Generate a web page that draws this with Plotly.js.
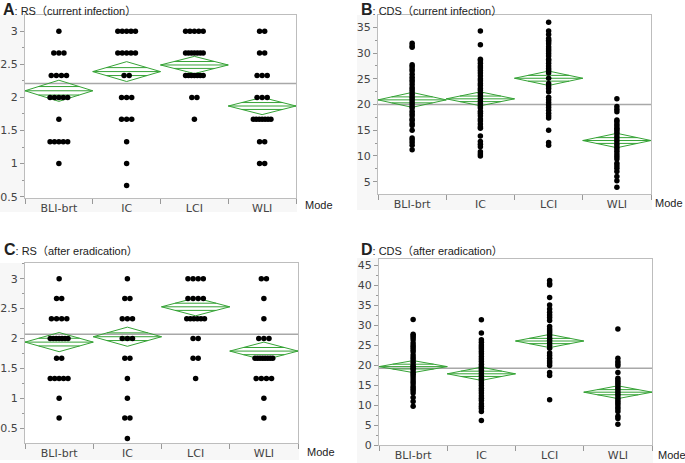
<!DOCTYPE html>
<html>
<head>
<meta charset="utf-8">
<script src="https://cdn.plot.ly/plotly-3.0.1.min.js"></script>
<style>body{margin:0;background:#fff}#chart{width:685px;height:463px}</style>
</head>
<body>
<div id="chart"></div>
<script>
// Categories
const modes = ['BLI-brt', 'IC', 'LCI', 'WLI'];

// A: RS (current infection)
const rsCurBLI = [3, 2.67, 2.67, 2.67, 2.33, 2.33, 2.33, 2.33, 2, 2, 2, 2, 2, 1.67, 1.33, 1.33, 1.33, 1.33, 1.33, 1];
const rsCurIC = [3, 3, 3, 3, 3, 2.67, 2.67, 2.67, 2.67, 2.67, 2.33, 2.33, 2, 2, 2, 1.67, 1.67, 1.67, 1.33, 1, 0.67];
const rsCurLCI = [3, 3, 3, 3, 3, 2.67, 2.67, 2.67, 2.67, 2.67, 2.67, 2.67, 2.33, 2.33, 2.33, 2.33, 2.33, 2.33, 2.33, 2, 2, 1.67];
const rsCurWLI = [3, 3, 2.67, 2.67, 2.33, 2.33, 2.33, 2, 2, 2, 1.67, 1.67, 1.67, 1.67, 1.67, 1.67, 1.67, 1.33, 1.33, 1, 1];
const rsCurMean = [2.10, 2.39, 2.49, 1.87];
const rsCurCI = [0.16, 0.15, 0.13, 0.13];
const rsCurGrand = 2.21;

// B: CDS (current infection)
const cdsCurBLI = [31.9, 31.4, 31.1, 27.7, 27.4, 26.9, 26.5, 25.9, 25.3, 24.8, 24.4, 23.9, 23.3, 22.9, 22.5, 22.0, 21.5, 21.1, 20.7, 20.2, 19.7, 19.3, 18.7, 18.2, 17.8, 17.2, 16.9, 16.3, 15.9, 15.0, 13.5, 13.1, 12.6, 12.1, 11.2];
const cdsCurIC = [34.3, 31.6, 28.8, 28.5, 28.0, 27.5, 27.1, 26.6, 26.1, 25.6, 25.0, 24.6, 24.1, 23.7, 23.1, 22.7, 22.2, 21.7, 21.2, 20.7, 20.2, 19.7, 19.3, 18.7, 18.3, 17.8, 17.2, 16.8, 16.2, 15.7, 15.4, 13.9, 12.8, 12.3, 11.8, 10.8, 10.4, 10.0];
const cdsCurLCI = [36.0, 34.3, 33.6, 32.8, 32.5, 32.2, 31.8, 31.2, 30.8, 30.4, 29.9, 29.4, 28.8, 28.5, 28.0, 27.5, 27.0, 26.6, 26.1, 25.1, 24.1, 23.6, 23.1, 22.5, 21.4, 20.9, 20.4, 19.9, 19.4, 18.9, 18.3, 17.8, 17.4, 15.0, 12.6, 12.1];
const cdsCurWLI = [21.1, 19.6, 19.1, 18.6, 17.0, 16.7, 16.2, 15.8, 15.4, 15.1, 14.7, 14.3, 13.8, 13.3, 12.8, 12.3, 11.8, 11.4, 10.9, 10.4, 9.9, 9.4, 8.6, 8.1, 7.6, 7.0, 6.0, 5.2, 3.9];
const cdsCurMean = [20.9, 21.1, 25.1, 13.0];
const cdsCurCI = [1.45, 1.35, 1.4, 1.4];
const cdsCurGrand = 20.0;

// C: RS (after eradication)
const rsEraBLI = [3, 2.67, 2.67, 2.33, 2.33, 2.33, 2.33, 2, 2, 2, 2, 2, 2, 2, 1.67, 1.67, 1.33, 1.33, 1.33, 1.33, 1.33, 1, 0.67];
const rsEraIC = [3, 2.67, 2.67, 2.33, 2.33, 2.33, 2, 2, 2, 1.67, 1.67, 1.33, 1, 0.67, 0.67, 0.33];
const rsEraLCI = [3, 3, 3, 3, 2.67, 2.67, 2.67, 2.67, 2.33, 2.33, 2.33, 2.33, 2.33, 2.33, 2, 2, 1.67, 1.67, 1.33];
const rsEraWLI = [3, 3, 2.67, 2.33, 2, 2, 2, 1.67, 1.67, 1.67, 1.67, 1.67, 1.67, 1.67, 1.67, 1.33, 1.33, 1.33, 1.33, 1, 0.67];
const rsEraMean = [1.94, 2.03, 2.53, 1.79];
const rsEraCI = [0.16, 0.16, 0.15, 0.15];
const rsEraGrand = 2.07;

// D: CDS (after eradication)
const cdsEraBLI = [31.4, 27.7, 27.3, 26.9, 26.3, 25.5, 24.9, 24.4, 23.8, 23.3, 22.5, 21.9, 21.3, 20.7, 20.0, 19.6, 19.2, 18.8, 18.2, 17.7, 17.1, 16.5, 15.9, 15.3, 14.6, 14.1, 13.6, 13.0, 11.9, 10.9, 9.7];
const cdsEraIC = [31.3, 28.0, 26.3, 25.7, 25.0, 24.5, 24.0, 23.4, 22.8, 22.1, 21.5, 20.9, 20.2, 19.6, 19.1, 18.6, 18.0, 17.4, 16.7, 16.1, 15.5, 14.9, 14.2, 13.6, 13.0, 12.3, 11.7, 11.1, 10.3, 9.7, 9.1, 8.4, 6.1];
const cdsEraLCI = [41.1, 40.4, 40.0, 36.9, 35.0, 34.0, 33.2, 32.5, 31.9, 31.1, 29.6, 29.0, 28.5, 28.0, 27.4, 26.7, 26.1, 25.5, 24.9, 24.2, 23.0, 22.4, 21.7, 21.0, 20.5, 19.9, 18.1, 17.4, 11.3];
const cdsEraWLI = [29.0, 21.7, 20.9, 20.3, 19.8, 18.1, 16.7, 16.1, 15.6, 15.1, 14.5, 14.0, 13.4, 12.8, 12.3, 11.7, 11.1, 10.6, 10.1, 9.5, 9.0, 8.4, 7.2, 6.6, 5.2];
const cdsEraMean = [19.6, 17.8, 26.0, 13.2];
const cdsEraCI = [1.5, 1.65, 1.65, 1.6];
const cdsEraGrand = 19.2;

const W = 685, H = 463;
const px = x => x / W;
const py = y => 1 - y / H;

// spread tied values sideways so the dots sit next to each other
function dotTrace(groups, xa, ya) {
  const xs = [], ys = [];
  groups.forEach((vals, i) => {
    const counts = {};
    vals.forEach(v => { counts[v] = (counts[v] || 0) + 1; });
    const seen = {};
    vals.forEach(v => {
      const n = counts[v];
      const k = seen[v] || 0;
      seen[v] = k + 1;
      const spread = Math.min(0.075 * (n - 1), 0.26);
      xs.push(n > 1 ? i - spread / 2 + k * spread / (n - 1) : i);
      ys.push(v);
    });
  });
  return {
    x: xs, y: ys, xaxis: xa, yaxis: ya, type: 'scatter', mode: 'markers',
    marker: {size: 5.5, color: '#000'}, hoverinfo: 'skip'
  };
}

// means diamonds with overlap marks
function diamondTrace(means, ci, xa, ya) {
  const xs = [], ys = [];
  const f = 0.4;
  means.forEach((m, i) => {
    const h = ci[i];
    xs.push(i - 0.5, i, i + 0.5, i, i - 0.5, null);
    ys.push(m, m + h, m, m - h, m, null);
    xs.push(i - 0.5, i + 0.5, null);
    ys.push(m, m, null);
    const w = 0.5 * (1 - f);
    xs.push(i - w, i + w, null, i - w, i + w, null);
    ys.push(m + f * h, m + f * h, null, m - f * h, m - f * h, null);
  });
  return {
    x: xs, y: ys, xaxis: xa, yaxis: ya, type: 'scatter', mode: 'lines',
    line: {color: '#36a336', width: 1}, hoverinfo: 'skip'
  };
}

function grandTrace(g, xa, ya) {
  return {
    x: [-0.5, 3.5], y: [g, g], xaxis: xa, yaxis: ya, type: 'scatter', mode: 'lines',
    line: {color: '#a8a8a8', width: 1.5}, hoverinfo: 'skip'
  };
}

const panels = [
  {xa: 'x', ya: 'y', groups: [rsCurBLI, rsCurIC, rsCurLCI, rsCurWLI], mean: rsCurMean, ci: rsCurCI, grand: rsCurGrand},
  {xa: 'x2', ya: 'y2', groups: [cdsCurBLI, cdsCurIC, cdsCurLCI, cdsCurWLI], mean: cdsCurMean, ci: cdsCurCI, grand: cdsCurGrand},
  {xa: 'x3', ya: 'y3', groups: [rsEraBLI, rsEraIC, rsEraLCI, rsEraWLI], mean: rsEraMean, ci: rsEraCI, grand: rsEraGrand},
  {xa: 'x4', ya: 'y4', groups: [cdsEraBLI, cdsEraIC, cdsEraLCI, cdsEraWLI], mean: cdsEraMean, ci: cdsEraCI, grand: cdsEraGrand}
];

const data = [];
panels.forEach(p => {
  data.push(grandTrace(p.grand, p.xa, p.ya));
  data.push(diamondTrace(p.mean, p.ci, p.xa, p.ya));
  data.push(dotTrace(p.groups, p.xa, p.ya));
});

const tickFont = {family: 'DejaVu Sans', size: 11, color: '#444'};

function xAx(x0, x1, anchor) {
  return {
    domain: [px(x0), px(x1)], anchor: anchor, range: [-0.5, 3.5],
    tickmode: 'array', tickvals: [0, 1, 2, 3], ticktext: modes,
    ticks: 'outside', ticklen: 0, tickcolor: 'rgba(0,0,0,0)',
    minor: {tick0: 0.5, dtick: 1, ticks: 'outside', ticklen: 5, tickcolor: '#999', showgrid: false},
    showline: true, linecolor: '#bdbdbd', mirror: true,
    showgrid: false, zeroline: false, tickfont: tickFont, fixedrange: true
  };
}

function yAx(y0, y1, range, dtick, tick0, anchor) {
  return {
    domain: [py(y1), py(y0)], anchor: anchor, range: range,
    tick0: tick0, dtick: dtick, ticks: 'outside', ticklen: 4, tickcolor: '#999',
    minor: {dtick: dtick / 2, tick0: tick0, ticks: 'outside', ticklen: 2, tickcolor: '#999', showgrid: false},
    showline: true, linecolor: '#bdbdbd', mirror: true,
    showgrid: false, zeroline: false, tickfont: tickFont, fixedrange: true
  };
}

const titleFont = {family: 'Liberation Sans, Noto Sans CJK JP', size: 11, color: '#222'};
function title(x, y, letter, text) {
  return {
    xref: 'paper', yref: 'paper', x: px(x), y: py(y), xanchor: 'left', yanchor: 'middle',
    showarrow: false, font: titleFont,
    text: '<span style="font-size:16px;font-weight:bold">' + letter + '</span>: ' + text
  };
}
function modeLabel(x, y) {
  return {
    xref: 'paper', yref: 'paper', x: px(x), y: py(y), xanchor: 'left', yanchor: 'middle',
    showarrow: false, text: 'Mode',
    font: {family: 'Liberation Sans', size: 11, color: '#222'}
  };
}
function rect(x0, y0, x1, y1, color) {
  return {
    type: 'rect', xref: 'paper', yref: 'paper', layer: 'below',
    x0: px(x0), x1: px(x1), y0: py(y1), y1: py(y0),
    fillcolor: color, line: {width: 0}
  };
}

const layout = {
  width: W, height: H,
  margin: {l: 0, r: 0, t: 0, b: 0},
  paper_bgcolor: '#fff', plot_bgcolor: '#fff',
  showlegend: false, hovermode: false,
  xaxis: xAx(25, 296, 'y'),
  yaxis: yAx(15, 198, [0.48, 3.245], 0.5, 0.5, 'x'),
  xaxis2: xAx(378, 651, 'y2'),
  yaxis2: yAx(15, 194, [2.61, 37.39], 5, 0, 'x2'),
  xaxis3: xAx(25, 298, 'y3'),
  yaxis3: yAx(263, 443, [0.254, 3.262], 0.5, 0.5, 'x3'),
  xaxis4: xAx(379, 652, 'y4'),
  yaxis4: yAx(259, 445, [0, 46.5], 5, 0, 'x4'),
  shapes: [
    // light panel backgrounds, then white plot areas on top
    rect(0, 15, 297, 212, '#f7f7f7'),
    rect(357, 15, 652, 210, '#f7f7f7'),
    rect(0, 263, 299, 460, '#f7f7f7'),
    rect(357, 258, 653, 463, '#f7f7f7'),
    rect(25, 15, 296, 198, '#fff'),
    rect(378, 15, 651, 194, '#fff'),
    rect(25, 263, 298, 443, '#fff'),
    rect(379, 259, 652, 445, '#fff')
  ],
  annotations: [
    title(1, 9, 'A', 'RS（current infection）'),
    title(359, 9, 'B', 'CDS（current infection）'),
    title(2, 250, 'C', 'RS（after eradication）'),
    title(359, 250, 'D', 'CDS（after eradication）'),
    modeLabel(303, 205),
    modeLabel(653, 203),
    modeLabel(305, 452),
    modeLabel(656, 455)
  ]
};

Plotly.newPlot('chart', data, layout, {displayModeBar: false, staticPlot: true});
</script>
</body>
</html>
